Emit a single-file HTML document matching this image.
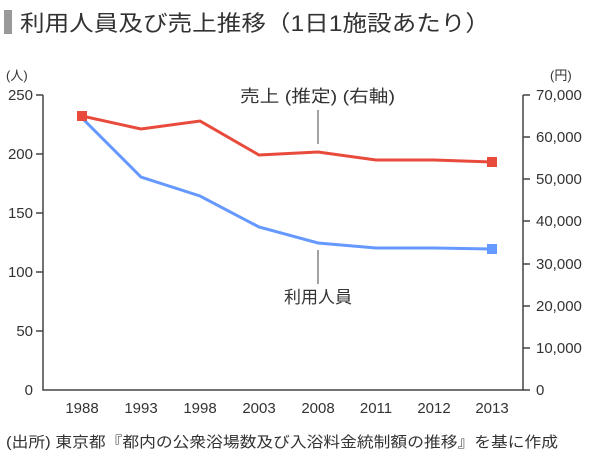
<!DOCTYPE html>
<html><head><meta charset="utf-8"><style>
body{margin:0;background:#fff;width:600px;height:458px;overflow:hidden;font-family:"Liberation Sans","Noto Sans CJK JP",sans-serif;color:#333}
</style></head><body>
<svg width="600" height="458" xmlns="http://www.w3.org/2000/svg" font-family="Liberation Sans, Noto Sans CJK JP, sans-serif" fill="#333">
<rect x="4" y="10" width="8" height="24" fill="#999"/>
<text x="20" y="31" font-size="22" textLength="470" lengthAdjust="spacingAndGlyphs">利用人員及び売上推移（1日1施設あたり）</text>
<text x="6" y="80" font-size="13">(人)</text>
<text x="550" y="80" font-size="13">(円)</text>
<g stroke="#444" stroke-width="1.5" fill="none">
<path d="M43 95V390H523V95"/>
<path d="M36 95H43M36 154H43M36 213H43M36 272H43M36 331H43M523 95H530M523 137H530M523 179H530M523 221H530M523 264H530M523 306H530M523 348H530M523 390H530"/>
<path d="M318 110V144M318 250V284" stroke-width="1"/>
</g>
<g font-size="15" text-anchor="end">
<text x="33" y="100">250</text><text x="33" y="159">200</text><text x="33" y="218">150</text><text x="33" y="277">100</text><text x="33" y="336">50</text><text x="33" y="395">0</text>
</g>
<g font-size="15">
<text x="536" y="100">70,000</text><text x="536" y="142">60,000</text><text x="536" y="184">50,000</text><text x="536" y="226">40,000</text><text x="536" y="269">30,000</text><text x="536" y="311">20,000</text><text x="536" y="353">10,000</text><text x="536" y="395">0</text>
</g>
<g font-size="15" text-anchor="middle">
<text x="82" y="413">1988</text><text x="141" y="413">1993</text><text x="200" y="413">1998</text><text x="259" y="413">2003</text><text x="318" y="413">2008</text><text x="376" y="413">2011</text><text x="434" y="413">2012</text><text x="492" y="413">2013</text>
</g>
<text x="240" y="102" font-size="17" textLength="155" lengthAdjust="spacingAndGlyphs">売上 (推定) (右軸)</text>
<text x="318" y="303" font-size="17" text-anchor="middle">利用人員</text>
<polyline fill="none" stroke="#6699ff" stroke-width="3" points="82,118 141,177 200,196 259,227 318,243 376,248 434,248 492,249"/>
<polyline fill="none" stroke="#e84a3c" stroke-width="3" points="82,116 141,129 200,121 259,155 318,152 376,160 434,160 492,162"/>
<rect x="487" y="244" width="10" height="10" fill="#6699ff"/>
<rect x="77" y="111" width="10" height="10" fill="#e84a3c"/>
<rect x="487" y="157" width="10" height="10" fill="#e84a3c"/>
<text x="6" y="447" font-size="15" textLength="552" lengthAdjust="spacingAndGlyphs">(出所) 東京都『都内の公衆浴場数及び入浴料金統制額の推移』を基に作成</text>
</svg>
</body></html>
